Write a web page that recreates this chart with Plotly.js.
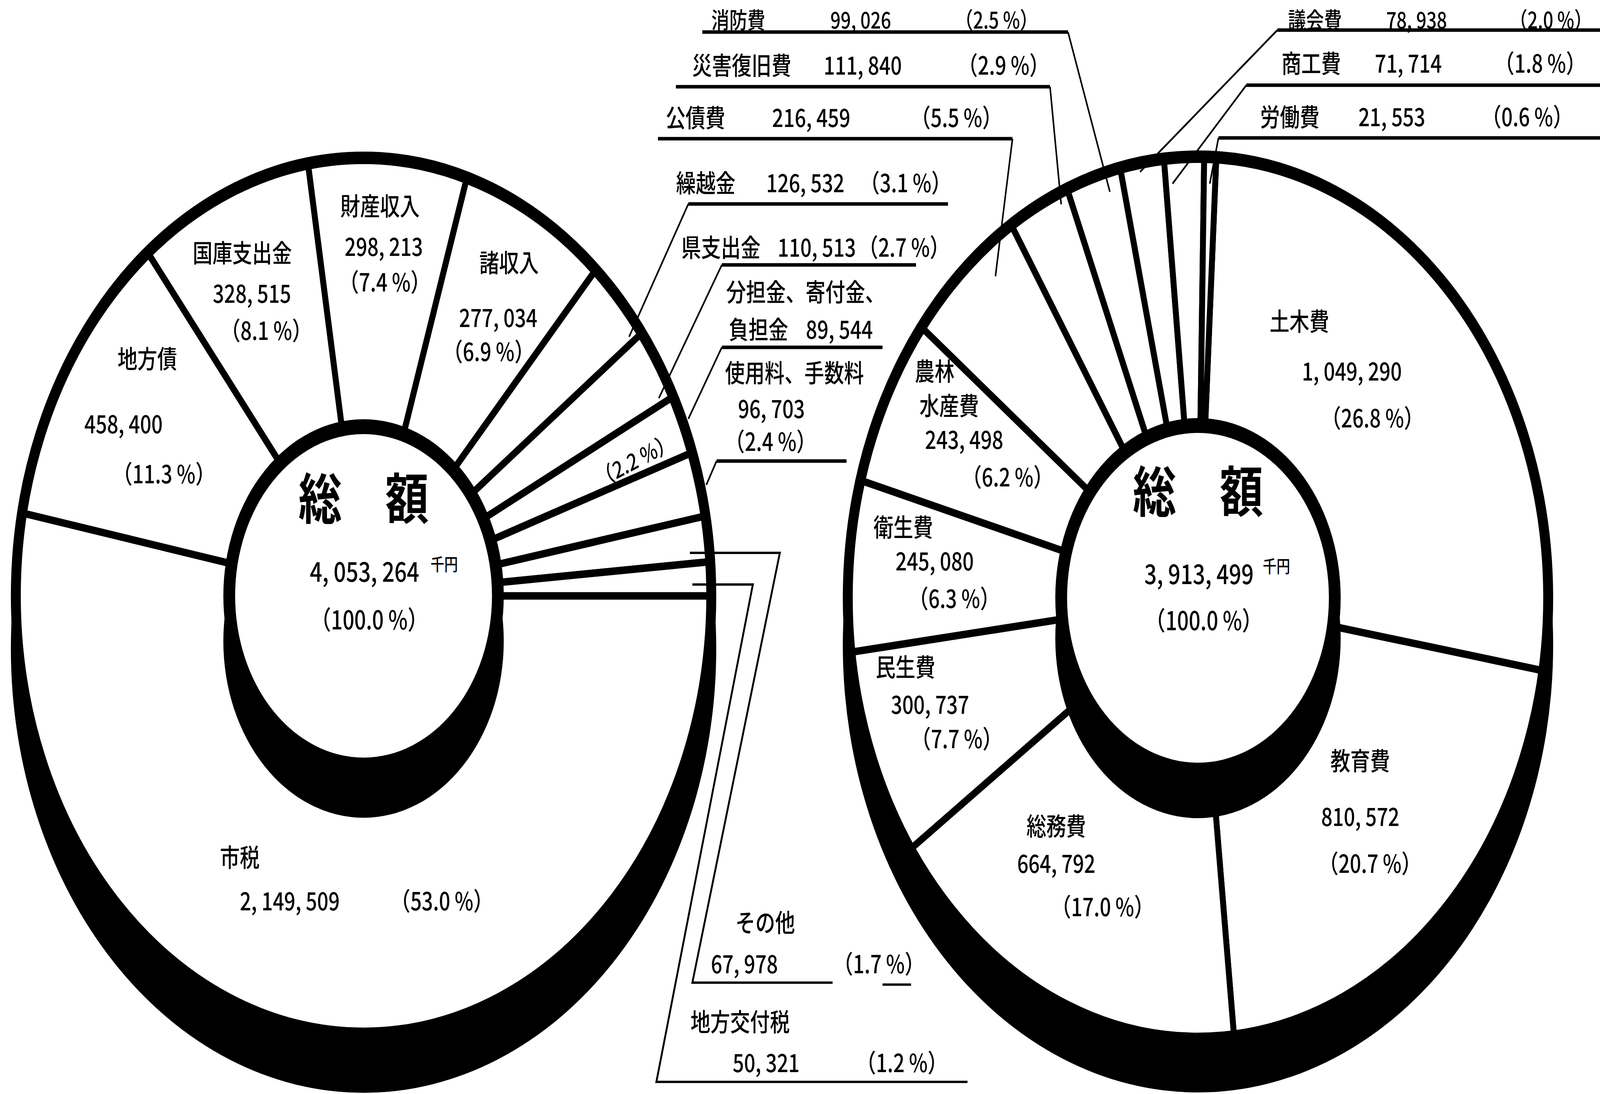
<!DOCTYPE html>
<html><head><meta charset="utf-8">
<script src="https://cdn.plot.ly/plotly-3.0.1.min.js"></script>
<style>html,body{margin:0;padding:0;background:#fff;overflow:hidden}#chart{width:5158px;height:2800px;transform-origin:0 0}</style>
</head><body><div id="chart"></div>
<script>
// ---------- DATA ----------
const revCategories = ['市税','地方債','国庫支出金','財産収入','諸収入','繰越金','県支出金','分担金、寄付金、負担金','使用料、手数料','その他','地方交付税'];
const revValues = [2149509, 458400, 328515, 298213, 277034, 126532, 110513, 89544, 96703, 67978, 50321];
const revPct = [53.0, 11.3, 8.1, 7.4, 6.9, 3.1, 2.7, 2.2, 2.4, 1.7, 1.2];
const revTotal = 4053264;

const expCategories = ['土木費','教育費','総務費','民生費','衛生費','農林水産費','公債費','災害復旧費','消防費','議会費','商工費','労働費'];
const expValues = [1049290, 810572, 664792, 300737, 245080, 243498, 216459, 111840, 99026, 78938, 71714, 21553];
const expPct = [26.8, 20.7, 17.0, 7.7, 6.3, 6.2, 5.5, 2.9, 2.5, 2.0, 1.8, 0.6];
const expTotal = 3913499;

const centerTitle = '総　額';
const unitLabel = '千円';
const totalPct = 100.0;

// ---------- LAYOUT (drawn in a 5158 x 2800 frame, then fitted to the window) ----------
const W = 5158, H = 2800;
const el = document.getElementById('chart');
const vw = document.documentElement.clientWidth || window.innerWidth || W;
const vh = document.documentElement.clientHeight || window.innerHeight || H;
if (Math.abs(vw - W) > 2 || Math.abs(vh - H) > 2) el.style.transform = 'scale(' + (vw / W) + ',' + (vh / H) + ')';

const X = x => x / W, Y = y => 1 - y / H;
const FONT = 'Noto Sans CJK JP, Noto Sans, sans-serif';
const fmt = v => v.toLocaleString('en-US').replace(/,/g, ', ');
const pct = p => '（' + p.toFixed(1) + ' %）';

const L = {cx: 1172, cy: 1525, R: 1121, rim: 32, shadow: 135, holeOut: 452, holeIn: 414, holeShift: 116};
const Rr = {cx: 3862, cy: 1530, R: 1129, rim: 32, shadow: 121, holeOut: 460, holeIn: 422, holeShift: 104};

function pie(g, values, labels, rotation) {
  return {
    type: 'pie', values: values, labels: labels, sort: false, direction: 'clockwise',
    rotation: rotation, hole: 440 / g.R, textinfo: 'none', hoverinfo: 'skip', showlegend: false,
    marker: {colors: values.map(() => '#ffffff'), line: {color: '#000', width: 19}},
    domain: {x: [X(g.cx - g.R), X(g.cx + g.R)], y: [Y(g.cy + g.R), Y(g.cy - g.R)]}
  };
}
function circ(cx, cy, r, fill, lw, layer) {
  return {type: 'circle', xref: 'paper', yref: 'paper', x0: X(cx - r), x1: X(cx + r), y0: Y(cy + r), y1: Y(cy - r),
    fillcolor: fill, line: {color: '#000', width: lw}, layer: layer};
}
function path(pts, w) {
  return {type: 'path', xref: 'paper', yref: 'paper', layer: 'above', line: {color: '#000', width: w},
    path: pts.map((p, i) => (i ? 'L' : 'M') + X(p[0]).toFixed(5) + ',' + Y(p[1]).toFixed(5)).join(' ')};
}
const shapes = [];
[L, Rr].forEach(g => {
  shapes.push(circ(g.cx, g.cy + g.shadow, g.R + g.rim / 2, '#000', 0, 'below'));
  shapes.push(circ(g.cx, g.cy, g.R, 'rgba(0,0,0,0)', g.rim, 'above'));
  shapes.push(circ(g.cx, g.cy + g.holeShift, g.holeOut, '#000', 0, 'above'));
  shapes.push(circ(g.cx, g.cy, g.holeOut, '#000', 0, 'above'));
  shapes.push(circ(g.cx, g.cy, g.holeIn, '#fff', 0, 'above'));
});
// callouts: underline (first two points) then leader into the slice
const callouts = [
  [[3056,522],[2219,522],[2028,862]],
  [[2953,678],[2327,678],[2124,1019]],
  [[2845,889],[2327,889],[2219,1072]],
  [[2729,1180],[2310,1180],[2277,1241]],
  [[2264,82],[3443,82],[3578,491]],
  [[2179,222],[3385,222],[3421,523]],
  [[2121,355],[3264,355],[3209,707]],
  [[5158,77],[4118,77],[3675,440]],
  [[5158,218],[4018,218],[3780,470]],
  [[5158,353],[3928,353],[3900,470]]
];
callouts.forEach(p => { shapes.push(path(p.slice(0, 2), 9)); shapes.push(path(p.slice(1), 5)); });
// bracket leaders for the two bottom labels
[[[2224,1415],[2514,1415],[2232,2515],[2684,2515]],
 [[2845,2520],[2937,2520]],
 [[2232,1496],[2427,1496],[2116,2769],[3119,2769]]].forEach(p => shapes.push(path(p, 6)));

// ---------- LABELS ----------
const ann = [];
function txt(x, y, t, size, anchor, extra) {
  ann.push(Object.assign({xref: 'paper', yref: 'paper', x: X(x), y: Y(y), text: t, showarrow: false,
    xanchor: anchor || 'center', yanchor: 'middle', font: {family: FONT, size: size || 64, color: '#000', weight: 500}}, extra || {}));
}
const revPos = [
  {n: [[0, 773, 2190]], v: [934, 2302], p: [1424, 2302], a: 'center'},
  {n: [[0, 475, 914]], v: [398, 1081], p: [528, 1209], a: 'center'},
  {n: [[0, 781, 643]], v: [812, 747], p: [858, 842], a: 'center'},
  {n: [[0, 1225, 523]], v: [1237, 627], p: [1240, 718], a: 'center'},
  {n: [[0, 1641, 668]], v: [1606, 809], p: [1575, 896], a: 'center'},
  {n: [[0, 2177, 464]], v: [2468, 464], p: [2770, 464], a: 'left'},
  {n: [[0, 2194, 629]], v: [2505, 629], p: [2765, 629], a: 'left'},
  {n: [[[0, 8], 2339, 743], [[8, 11], 2347, 839]], v: [2596, 839], p: [2045, 1175], a: 'left', rot: -23},
  {n: [[0, 2335, 950]], v: [2377, 1042], p: [2335, 1126], a: 'left'},
  {n: [[0, 2369, 2357]], v: [2290, 2463], p: [2684, 2463], a: 'left'},
  {n: [[0, 2224, 2611]], v: [2360, 2716], p: [2758, 2716], a: 'left'}
];
const expPos = [
  {n: [[0, 4189, 818]], v: [4358, 946], p: [4424, 1066], a: 'center'},
  {n: [[0, 4385, 1943]], v: [4385, 2086], p: [4416, 2206], a: 'center'},
  {n: [[0, 3405, 2110]], v: [3405, 2206], p: [3554, 2317], a: 'center'},
  {n: [[0, 2919, 1703]], v: [2998, 1799], p: [3084, 1887], a: 'center'},
  {n: [[0, 2912, 1345]], v: [3013, 1432], p: [3076, 1528], a: 'center'},
  {n: [[[0, 2], 3013, 946], [[2, 5], 3060, 1034]], v: [3108, 1121], p: [3249, 1217], a: 'center'},
  {n: [[0, 2144, 297]], v: [2487, 297], p: [2934, 297], a: 'left'},
  {n: [[0, 2229, 163]], v: [2653, 163], p: [3086, 163], a: 'left'},
  {n: [[0, 2291, 48]], v: [2675, 48], p: [3077, 48], a: 'left'},
  {n: [[0, 4150, 48]], v: [4467, 48], p: [4864, 48], a: 'left'},
  {n: [[0, 4129, 158]], v: [4430, 158], p: [4816, 158], a: 'left'},
  {n: [[0, 4060, 295]], v: [4377, 295], p: [4774, 295], a: 'left'}
];
function place(cats, vals, pcts, pos) {
  pos.forEach((q, i) => {
    const size = q.n[0][2] < 60 ? 58 : 64;
    q.n.forEach(nl => {
      const t = Array.isArray(nl[0]) ? cats[i].slice(nl[0][0], nl[0][1]) : cats[i];
      txt(nl[1], nl[2], t, size, q.a);
    });
    txt(q.v[0], q.v[1], fmt(vals[i]), size, q.a);
    if (q.rot) txt(q.p[0], q.p[1], pct(pcts[i]), 58, 'center', {textangle: q.rot});
    else txt(q.p[0], q.p[1], pct(pcts[i]), size, q.a);
  });
}
place(revCategories, revValues, revPct, revPos);
place(expCategories, expValues, expPct, expPos);

// centre texts
[[L, revTotal, 1267, 1459, 1582, 1432], [Rr, expTotal, 1249, 1464, 1584, 4115]].forEach(c => {
  const g = c[0];
  txt(g.cx, c[2], '<b>' + centerTitle + '</b>', 140, 'center');
  txt(g.cx + 3, c[3], fmt(c[1]), 70, 'center');
  txt(c[5], c[3] - 17, unitLabel, 44, 'center');
  txt(g.cx + 18, c[4], pct(totalPct), 66, 'center');
});

Plotly.newPlot('chart', [pie(L, revValues, revCategories, 90), pie(Rr, expValues, expCategories, 3)], {
  width: W, height: H, margin: {l: 0, r: 0, t: 0, b: 0}, paper_bgcolor: '#fff', plot_bgcolor: '#fff',
  showlegend: false, shapes: shapes, annotations: ann, font: {family: FONT}
}, {displayModeBar: false, staticPlot: true});
</script></body></html>
